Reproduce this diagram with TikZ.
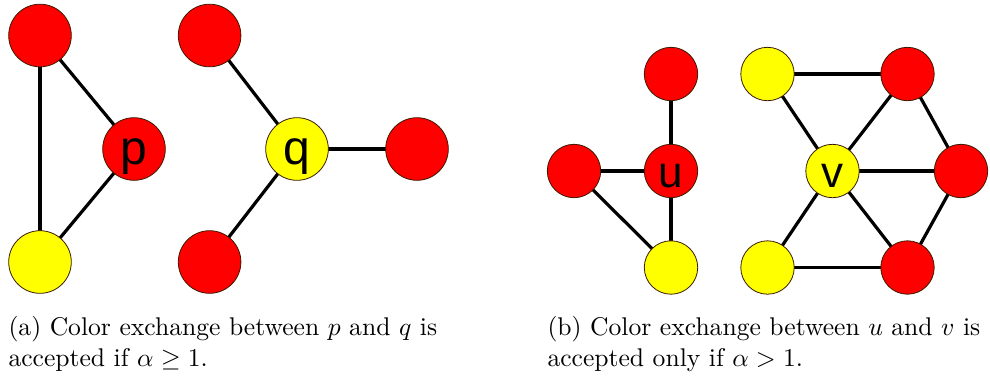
\documentclass[tikz,border=0pt]{standalone}
\usepackage{fontspec}
\newfontfamily\lblfont{Liberation Sans}
\usetikzlibrary{backgrounds}
\definecolor{vred}{HTML}{FF0000}
\definecolor{vyellow}{HTML}{FFFF00}
\definecolor{vrim}{HTML}{3A1A00}
\tikzset{
  vtx/.style={circle, draw=vrim, line width=0.8pt, inner sep=0pt, text=black},
  bigv/.style={vtx, minimum size=62.6pt, font=\lblfont\fontsize{48}{48}\selectfont,
               text height=30pt, text depth=0pt},
  smallv/.style={vtx, minimum size=53.4pt, font=\lblfont\fontsize{44}{44}\selectfont,
               text height=32pt, text depth=0pt},
  redv/.style={fill=vred},
  yelv/.style={fill=vyellow},
  edge/.style={line width=3.2pt, black},
  capline/.style={anchor=base west, inner sep=0pt, scale=2.56,
                  font=\fontsize{10}{12}\selectfont}
}
\begin{document}
\begin{tikzpicture}[x=1pt, y=-1pt]
  \useasboundingbox (0,0) rectangle (990,376);

  % (a) the two neighbourhoods of p and q
  \node[bigv, redv] (a1) at (40,35.5) {};
  \node[bigv, redv] (p)  at (134,149) {p};
  \node[bigv, yelv] (a2) at (40,262) {};
  \node[bigv, yelv] (q)  at (297,149) {q};
  \node[bigv, redv] (b1) at (209.6,35.5) {};
  \node[bigv, redv] (b2) at (417,149) {};
  \node[bigv, redv] (b3) at (209.6,262) {};

  % (b) the two neighbourhoods of u and v
  \node[smallv, redv] (c1) at (671,74) {};
  \node[smallv, redv] (u)  at (671,171) {u};
  \node[smallv, redv] (c2) at (574,171) {};
  \node[smallv, yelv] (c3) at (671,267.5) {};
  \node[smallv, yelv] (v)  at (832.5,171) {v};
  \node[smallv, yelv] (d1) at (767.5,74) {};
  \node[smallv, redv] (d2) at (907.5,74) {};
  \node[smallv, redv] (d3) at (961,171) {};
  \node[smallv, yelv] (d4) at (767.5,267.5) {};
  \node[smallv, redv] (d5) at (907.5,267.5) {};

  \begin{scope}[on background layer]
    \draw[edge] (a1.center) -- (a2.center);
    \draw[edge] (a1.center) -- (p.center);
    \draw[edge] (p.center) -- (a2.center);
    \draw[edge] (q.center) -- (b1.center);
    \draw[edge] (q.center) -- (b2.center);
    \draw[edge] (q.center) -- (b3.center);

    \draw[edge] (u.center) -- (c1.center);
    \draw[edge] (u.center) -- (c2.center);
    \draw[edge] (u.center) -- (c3.center);
    \draw[edge] (c2.center) -- (c3.center);

    \draw[edge] (d1.center) -- (d2.center);
    \draw[edge] (d1.center) -- (v.center);
    \draw[edge] (v.center) -- (d2.center);
    \draw[edge] (d2.center) -- (d3.center);
    \draw[edge] (v.center) -- (d3.center);
    \draw[edge] (d3.center) -- (d5.center);
    \draw[edge] (v.center) -- (d5.center);
    \draw[edge] (v.center) -- (d4.center);
    \draw[edge] (d4.center) -- (d5.center);
  \end{scope}

  % captions
  \node[capline] (capa1) at (8,335.7) {(a) Color exchange between $p$ and $q$ is};
  \node[capline] (capa2) at (8,366.7) {accepted if $\alpha \geq 1$.};
  \node[capline] (capb1) at (547,335.7) {(b) Color exchange between $u$ and $v$ is};
  \node[capline] (capb2) at (547,366.7) {accepted only if $\alpha > 1$.};
\end{tikzpicture}
\end{document}
